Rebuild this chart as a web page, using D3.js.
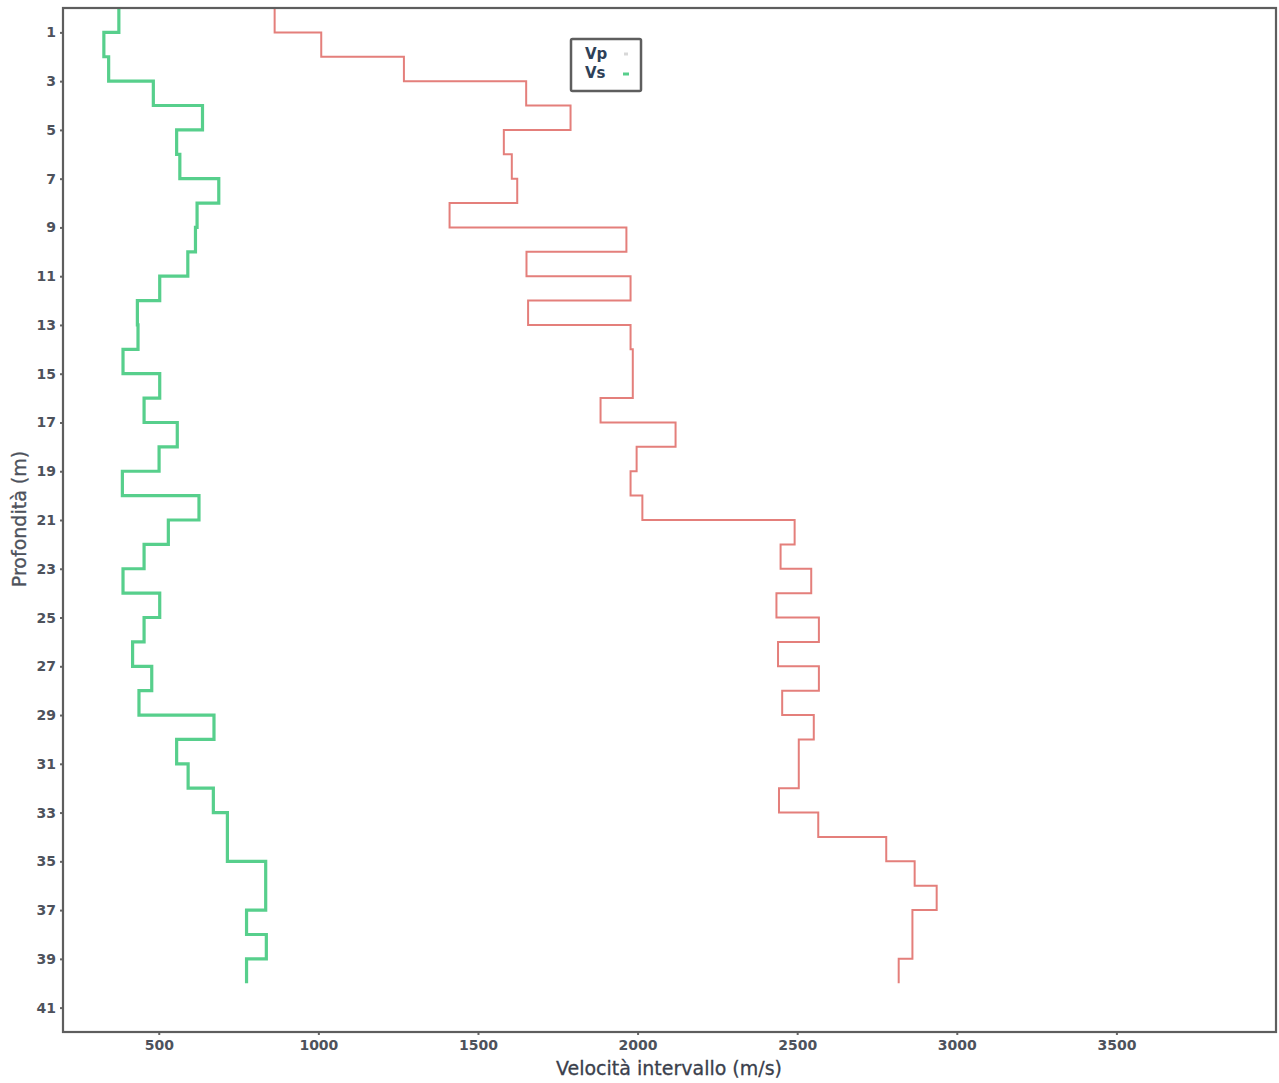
<!DOCTYPE html>
<html>
<head>
<meta charset="utf-8">
<script src="https://cdn.jsdelivr.net/npm/d3@7"></script>
<style>
  html, body { margin: 0; padding: 0; background: #fff; }
  svg { display: block; }
</style>
</head>
<body>
<svg id="chart" width="1279" height="1083"></svg>
<script>
// Layer tops (m); each layer is 1 m thick, last layer ends at 40 m
const depthTop = [0, 1, 2, 3, 4, 5, 6, 7, 8, 9, 10, 11, 12, 13, 14, 15, 16, 17, 18, 19,
                  20, 21, 22, 23, 24, 25, 26, 27, 28, 29, 30, 31, 32, 33, 34, 35, 36, 37, 38, 39];
const depthBottom = 40;

// Interval P-wave velocity per layer (m/s)
const vp = [863, 1009, 1268, 1651, 1790, 1581, 1606, 1623, 1411, 1965,
            1652, 1978, 1657, 1978, 1985, 1985, 1884, 2119, 1997, 1978,
            2015, 2492, 2448, 2544, 2435, 2568, 2440, 2568, 2453, 2552,
            2505, 2505, 2443, 2566, 2779, 2868, 2937, 2861, 2861, 2818];

// Interval S-wave velocity per layer (m/s)
const vs = [375, 328, 343, 483, 637, 556, 566, 688, 620, 615,
            591, 503, 433, 435, 388, 503, 454, 558, 501, 386,
            626, 530, 454, 388, 503, 454, 418, 478, 438, 673,
            556, 592, 671, 715, 715, 835, 835, 775, 837, 775];

const xTicks = [500, 1000, 1500, 2000, 2500, 3000, 3500];
const yTicks = [1, 3, 5, 7, 9, 11, 13, 15, 17, 19, 21, 23, 25, 27, 29, 31, 33, 35, 37, 39, 41];

const seriesNames = ["Vp", "Vs"];
const seriesColors = ["#e47f7b", "#57cf8c"];
const xTitle = "Velocità intervallo (m/s)";
const yTitle = "Profondità (m)";

const svg = d3.select("#chart");
const plot = { left: 63, top: 8, right: 1276, bottom: 1032 };

const x = d3.scaleLinear().domain([200, 4000]).range([plot.left, plot.right]);
const y = d3.scaleLinear().domain([0, 42]).range([plot.top, plot.bottom]);

// Convert a per-layer series into vertical step points
function stepPoints(values) {
  const pts = [];
  values.forEach((v, i) => {
    const top = depthTop[i];
    const bot = i + 1 < depthTop.length ? depthTop[i + 1] : depthBottom;
    pts.push([v, top], [v, bot]);
  });
  return pts;
}

const line = d3.line().x(d => x(d[0])).y(d => y(d[1]));

// Axes
const fontFam = "'DejaVu Sans', Verdana, sans-serif";
const xAxis = d3.axisBottom(x).tickValues(xTicks).tickSize(3).tickPadding(5).tickFormat(d3.format("d"));
const yAxis = d3.axisLeft(y).tickValues(yTicks).tickSize(3).tickPadding(4).tickFormat(d3.format("d"));

const gx = svg.append("g").attr("transform", `translate(0,${plot.bottom})`).call(xAxis);
const gy = svg.append("g").attr("transform", `translate(${plot.left},0)`).call(yAxis);
[gx, gy].forEach(g => {
  g.select(".domain").remove();
  g.selectAll(".tick line").attr("stroke", "#666").attr("stroke-width", 2);
  g.selectAll(".tick text")
    .attr("fill", "#4d525c")
    .style("font-family", fontFam)
    .style("font-size", "14px")
    .style("font-weight", "bold");
});

// Data lines
svg.append("path")
  .datum(stepPoints(vp))
  .attr("fill", "none")
  .attr("stroke", seriesColors[0])
  .attr("stroke-width", 2)
  .attr("d", line);

svg.append("path")
  .datum(stepPoints(vs))
  .attr("fill", "none")
  .attr("stroke", seriesColors[1])
  .attr("stroke-width", 3.2)
  .attr("d", line);

// Plot frame
svg.append("rect")
  .attr("x", plot.left).attr("y", plot.top)
  .attr("width", plot.right - plot.left).attr("height", plot.bottom - plot.top)
  .attr("fill", "none").attr("stroke", "#5e5e5e").attr("stroke-width", 2.2);

// Axis titles
svg.append("text")
  .attr("x", 669).attr("y", 1075)
  .attr("text-anchor", "middle")
  .attr("fill", "#3a404c")
  .attr("stroke", "#3a404c").attr("stroke-width", 0.3)
  .style("font-family", fontFam)
  .style("font-size", "19px")
  .text(xTitle);

svg.append("text")
  .attr("transform", "translate(26,519) rotate(-90)")
  .attr("text-anchor", "middle")
  .attr("fill", "#4d525c")
  .attr("stroke", "#4d525c").attr("stroke-width", 0.3)
  .style("font-family", fontFam)
  .style("font-size", "19px")
  .text(yTitle);

// Legend
const lg = svg.append("g").attr("transform", "translate(571,39)");
lg.append("rect")
  .attr("width", 70).attr("height", 52)
  .attr("fill", "#fff").attr("stroke", "#5e5e5e").attr("stroke-width", 2.5).attr("rx", 1.5);
seriesNames.forEach((name, i) => {
  lg.append("text")
    .attr("x", 14).attr("y", 20 + i * 19)
    .attr("fill", "#2e4158")
    .style("font-family", fontFam)
    .style("font-size", "15px")
    .style("font-weight", "bold")
    .text(name);
});
lg.append("line").attr("x1", 53).attr("x2", 57).attr("y1", 15).attr("y2", 15)
  .attr("stroke", "#d8d8d8").attr("stroke-width", 3);
lg.append("line").attr("x1", 52).attr("x2", 58).attr("y1", 35).attr("y2", 35)
  .attr("stroke", seriesColors[1]).attr("stroke-width", 3);
</script>
</body>
</html>
